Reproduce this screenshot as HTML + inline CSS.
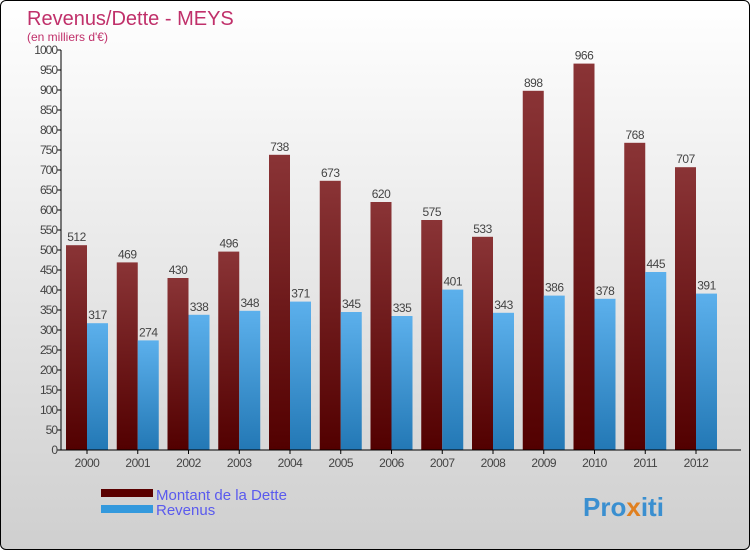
<!DOCTYPE html>
<html><head><meta charset="utf-8"><style>
body{margin:0;}
#c{position:relative;width:748px;height:548px;border:1px solid #000;border-radius:6px;overflow:hidden;background:linear-gradient(#ffffff,#cfcfcf);font-family:"Liberation Sans",sans-serif;}
</style></head><body>
<div id="c">
<svg id="s" width="748" height="548" xmlns="http://www.w3.org/2000/svg">
<defs>
<linearGradient id="gd" x1="0" y1="0" x2="0" y2="1"><stop offset="0" stop-color="#8a3436"/><stop offset="1" stop-color="#520000"/></linearGradient>
<linearGradient id="gr" x1="0" y1="0" x2="0" y2="1"><stop offset="0" stop-color="#5cb0ec"/><stop offset="1" stop-color="#2378b5"/></linearGradient>
</defs>
<text x="26" y="24" font-size="20" fill="#c0306a">Revenus/Dette - MEYS</text>
<text x="26" y="40" font-size="12" fill="#c0306a">(en milliers d'€)</text>
<g id="plot"></g>
<g>
<rect x="100" y="488" width="52" height="8" fill="#5a0000"/>
<text x="155" y="499" font-size="15" fill="#5a5aee">Montant de la Dette</text>
<rect x="100" y="504" width="52" height="8" fill="#3399dd"/>
<text x="155" y="514" font-size="15" fill="#5a5aee">Revenus</text>
</g>
<text x="582" y="515" font-size="26" font-weight="bold" fill="#3a8fd0">Pro<tspan fill="#e08020">x</tspan>iti</text>
</svg>
</div>
<script>
const years=["2000","2001","2002","2003","2004","2005","2006","2007","2008","2009","2010","2011","2012"];
const dette=[512,469,430,496,738,673,620,575,533,898,966,768,707];
const revenus=[317,274,338,348,371,345,335,401,343,386,378,445,391];
const yTicks=[0,50,100,150,200,250,300,350,400,450,500,550,600,650,700,750,800,850,900,950,1000];
const NS="http://www.w3.org/2000/svg";
const g=document.getElementById('plot');
const x0=60,y0=449,yTop=49,step=50.75,bw=21;
const Y=v=>y0-(v/1000)*(y0-yTop);
const X=i=>x0+5+i*step;
function mk(t,a){const e=document.createElementNS(NS,t);for(const k in a)e.setAttribute(k,a[k]);g.appendChild(e);return e;}
yTicks.forEach(v=>{
 const l=mk('line',{x1:x0-4,x2:x0,y1:Y(v),y2:Y(v),stroke:'#000'});
 
 
 const t=mk('text',{x:x0-4,y:Y(v)+4,'font-size':12,'text-anchor':'end',fill:'#444','letter-spacing':'-1'});
 t.textContent=v;
 
 
});
years.forEach((yr,i)=>{
 const bx=X(i);
 const d=mk('rect',{x:bx,y:Y(dette[i]),width:bw,height:y0-Y(dette[i]),fill:'url(#gd)'});
 
 
 const r=mk('rect',{x:bx+bw,y:Y(revenus[i]),width:bw,height:y0-Y(revenus[i]),fill:'url(#gr)'});
 
 
 const td=mk('text',{x:bx+bw/2,y:Y(dette[i])-4,'font-size':12,'text-anchor':'middle',fill:'#444','letter-spacing':'-0.5'});
 td.textContent=dette[i];
 
 
 const tr=mk('text',{x:bx+bw*1.5,y:Y(revenus[i])-4,'font-size':12,'text-anchor':'middle',fill:'#444','letter-spacing':'-0.5'});
 tr.textContent=revenus[i];
 
 
 const tk=mk('line',{x1:bx+bw,x2:bx+bw,y1:y0,y2:y0+4,stroke:'#000'});
 
 
 const tl=mk('text',{x:bx+bw,y:y0+17,'font-size':12,'text-anchor':'middle',fill:'#444','letter-spacing':'-0.5'});
 tl.textContent=yr;
 
 
});
const ax=mk('line',{x1:x0,x2:x0,y1:yTop,y2:y0,stroke:'#000'});


const bx2=mk('line',{x1:x0,x2:740,y1:y0,y2:y0,stroke:'#000'});


</script>
</body></html>
